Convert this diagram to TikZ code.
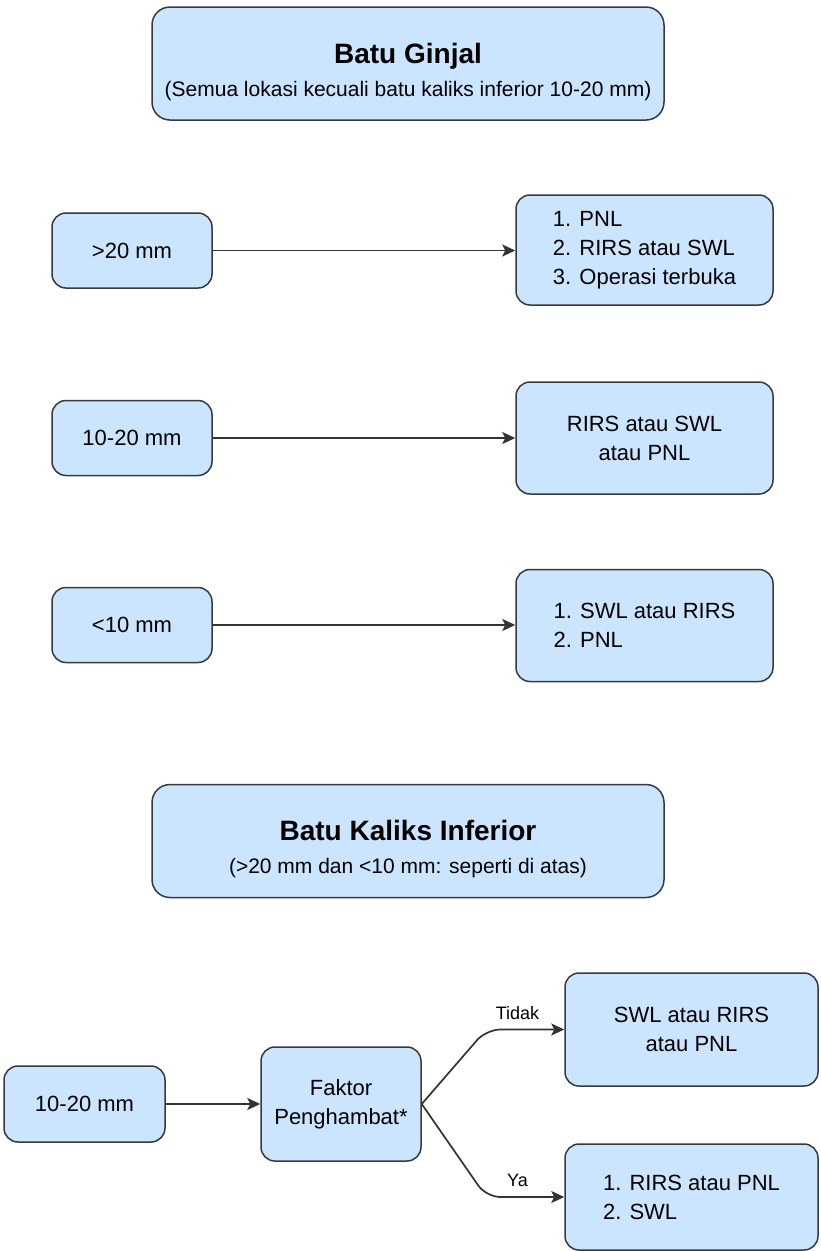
\documentclass[tikz,border=0pt]{standalone}
\usepackage{fontspec}
\setmainfont{Liberation Sans}
\usetikzlibrary{arrows.meta}
\definecolor{bf}{HTML}{CCE5FF}
\definecolor{bd}{HTML}{36393D}
\definecolor{ln}{HTML}{333333}
\begin{document}
\begin{tikzpicture}[x=1pt,y=-1pt,
  box/.style={draw=bd, fill=bf, line width=1.5pt, rounded corners=14pt, inner sep=0pt, align=center,
    font=\fontsize{22}{29}\selectfont},
  listbox/.style={box, align=left},
  head/.style={draw=bd, fill=bf, line width=1.5pt, rounded corners=18pt, inner sep=0pt, align=center,
    minimum width=512pt, minimum height=113pt, font=\fontsize{21}{33}\selectfont},
  conn/.style={draw=ln, line width=1.7pt, -{Stealth[length=13pt,width=12pt,inset=3pt]}},
  lbl/.style={font=\fontsize{18}{20}\selectfont, inner sep=2pt}]
\useasboundingbox (0,0) rectangle (820,1251);
% top header
\node[head] (h1) at (408,63.5) {\rule{0pt}{37pt}{\fontsize{28}{33}\selectfont\bfseries Batu Ginjal}\\
  (Semua lokasi kecuali batu kaliks inferior 10-20 mm)};
% rows
\node[box, minimum width=160pt, minimum height=75pt] (a1) at (132,250.5) {>20 mm};
\node[listbox, minimum width=257pt, minimum height=110pt] (b1) at (644.5,250) {1. PNL\\2. RIRS atau SWL\\3. Operasi terbuka};
\node[box, minimum width=160pt, minimum height=75pt] (a2) at (132,438) {10-20 mm};
\node[box, minimum width=257pt, minimum height=112pt] (b2) at (644.5,438) {RIRS atau SWL\\atau PNL};
\node[box, minimum width=160pt, minimum height=75pt] (a3) at (132,625) {<10 mm};
\node[listbox, minimum width=257pt, minimum height=112pt] (b3) at (644.5,625.5) {1. SWL atau RIRS\\2. PNL};
\draw[conn] (a1.east) -- (a1.east -| b1.west);
\draw[conn] (a2.east) -- (a2.east -| b2.west);
\draw[conn] (a3.east) -- (a3.east -| b3.west);
% second header
\node[head] (h2) at (408,841) {\rule{0pt}{37pt}{\fontsize{28}{33}\selectfont\bfseries Batu Kaliks Inferior}\\
  (>20 mm dan <10 mm: seperti di atas)};
% bottom flow
\node[box, minimum width=161pt, minimum height=76pt] (c1) at (84.5,1104) {10-20 mm};
\node[box, minimum width=160pt, minimum height=114pt] (f) at (341,1104) {Faktor\\Penghambat*};
\node[box, minimum width=253pt, minimum height=113pt] (s1) at (691.5,1029.5) {SWL atau RIRS\\atau PNL};
\node[listbox, minimum width=253pt, minimum height=106pt] (s2) at (691.5,1197) {1. RIRS atau PNL\\2. SWL};
\draw[conn] (c1.east) -- (f.west);
\draw[conn, rounded corners=14pt] (f.east) -- ([xshift=-78pt]s1.west) -- node[lbl, above=7pt, pos=0.4] (t) {Tidak} (s1.west);
\draw[conn, rounded corners=14pt] (f.east) -- ([xshift=-78pt]s2.west) -- node[lbl, above=7pt, pos=0.4] (y) {Ya} (s2.west);
\end{tikzpicture}
\end{document}
